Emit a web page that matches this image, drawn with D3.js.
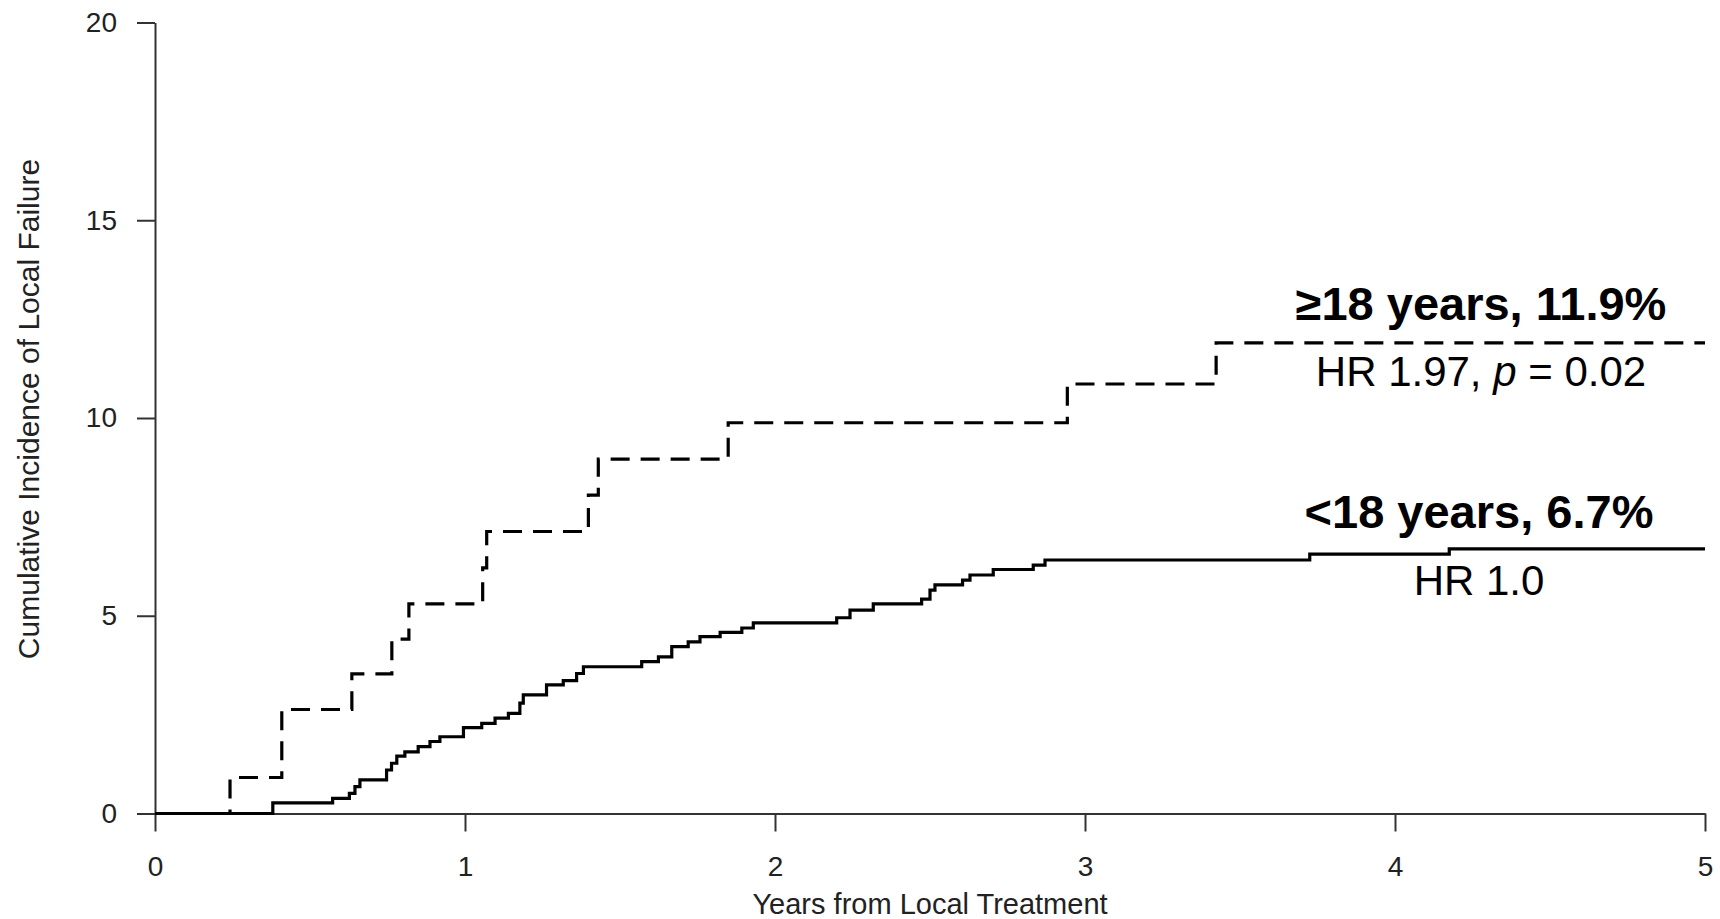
<!DOCTYPE html>
<html>
<head>
<meta charset="utf-8">
<script src="https://cdn.jsdelivr.net/npm/d3@7"></script>
<style>
  html, body { margin: 0; padding: 0; background: #fff; }
  text { font-family: "Liberation Sans", Arial, Helvetica, sans-serif; }
</style>
</head>
<body>
<div id="chart"></div>
<script>
// Cumulative incidence of local failure, step curves

// <18 years (solid)
const youngTimes  = [0, 0.380, 0.573, 0.627, 0.645, 0.661, 0.747, 0.763, 0.780, 0.806, 0.849, 0.887, 0.919, 0.995,
                     1.054, 1.097, 1.140, 1.177, 1.188, 1.263, 1.317, 1.360, 1.382, 1.570, 1.624, 1.667, 1.720,
                     1.758, 1.823, 1.893, 1.930, 2.199, 2.242, 2.317, 2.473, 2.500, 2.516, 2.605, 2.629, 2.704,
                     2.833, 2.871, 3.725, 4.175, 5];
const youngValues = [0, 0.27, 0.38, 0.51, 0.68, 0.85, 1.10, 1.27, 1.45, 1.56, 1.69, 1.82, 1.94, 2.17,
                     2.28, 2.41, 2.53, 2.79, 3.00, 3.25, 3.36, 3.54, 3.71, 3.84, 3.96, 4.22, 4.34,
                     4.47, 4.58, 4.69, 4.82, 4.95, 5.14, 5.30, 5.42, 5.65, 5.78, 5.90, 6.03, 6.17,
                     6.28, 6.41, 6.56, 6.69, 6.69];

// >=18 years (dashed)
const adultTimes  = [0, 0.242, 0.409, 0.635, 0.764, 0.819, 1.057, 1.070, 1.398, 1.430, 1.849, 2.943, 3.423, 5];
const adultValues = [0, 0.91, 2.63, 3.53, 4.41, 5.30, 6.21, 7.13, 8.05, 8.96, 9.88, 10.86, 11.90, 11.90];

const xTicks = [0, 1, 2, 3, 4, 5];
const yTicks = [0, 5, 10, 15, 20];

const width = 1720, height = 919;

const svg = d3.select("#chart").append("svg")
    .attr("width", width)
    .attr("height", height);

svg.append("rect").attr("width", width).attr("height", height).attr("fill", "#fff");

const x = d3.scaleLinear().domain([0, 5]).range([155, 1705]);
const y = d3.scaleLinear().domain([0, 20]).range([813.5, 22.5]);

// axes (R base-graphics look)
const xAxis = svg.append("g")
    .attr("transform", `translate(0,${y(0)})`)
    .call(d3.axisBottom(x).tickValues(xTicks).tickFormat(d3.format("d"))
        .tickSize(18).tickSizeOuter(0).tickPadding(25));

const yAxis = svg.append("g")
    .attr("transform", `translate(${x(0)},0)`)
    .call(d3.axisLeft(y).tickValues(yTicks).tickFormat(d3.format("d"))
        .tickSize(18).tickSizeOuter(0).tickPadding(20));

[xAxis, yAxis].forEach(g => {
    g.selectAll("path, line").attr("stroke", "#333").attr("stroke-width", 2);
    g.selectAll("text").attr("fill", "#222").style("font-size", "28px")
        .style("font-family", '"Liberation Sans", Arial, sans-serif');
});

// axis titles
svg.append("text")
    .attr("x", (x(0) + x(5)) / 2)
    .attr("y", 914)
    .attr("text-anchor", "middle")
    .attr("fill", "#222")
    .style("font-size", "29px")
    .text("Years from Local Treatment");

svg.append("text")
    .attr("transform", `translate(39,409) rotate(-90)`)
    .attr("text-anchor", "middle")
    .attr("fill", "#222")
    .style("font-size", "30px")
    .text("Cumulative Incidence of Local Failure");

// curves
const line = d3.line()
    .x(d => x(d[0]))
    .y(d => y(d[1]))
    .curve(d3.curveStepAfter);

const youngData = youngTimes.map((t, i) => [t, youngValues[i]]);
const adultData = adultTimes.map((t, i) => [t, adultValues[i]]);

svg.append("path")
    .datum(youngData)
    .attr("d", line)
    .attr("fill", "none")
    .attr("stroke", "#000")
    .attr("stroke-width", 3.2);

svg.append("path")
    .datum(adultData)
    .attr("d", line)
    .attr("fill", "none")
    .attr("stroke", "#000")
    .attr("stroke-width", 3.2)
    .attr("stroke-dasharray", "19,11");

// annotations
svg.append("text")
    .attr("x", 1481).attr("y", 320)
    .attr("text-anchor", "middle")
    .style("font-size", "47px").style("font-weight", "bold")
    .text("≥18 years, 11.9%");

const hr1 = svg.append("text")
    .attr("x", 1481).attr("y", 386)
    .attr("text-anchor", "middle")
    .style("font-size", "42px");
hr1.append("tspan").text("HR 1.97, ");
hr1.append("tspan").style("font-style", "italic").text("p");
hr1.append("tspan").text(" = 0.02");

svg.append("text")
    .attr("x", 1479).attr("y", 528)
    .attr("text-anchor", "middle")
    .style("font-size", "47px").style("font-weight", "bold")
    .text("<18 years, 6.7%");

svg.append("text")
    .attr("x", 1479).attr("y", 595)
    .attr("text-anchor", "middle")
    .style("font-size", "42px")
    .text("HR 1.0");
</script>
</body>
</html>
